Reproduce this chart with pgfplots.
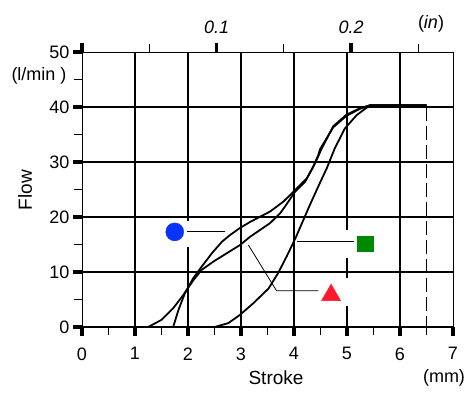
\documentclass[border=0pt]{standalone}
\usepackage{pgfplots}
\pgfplotsset{compat=1.18}
\usepackage{fontspec}
\setmainfont{Liberation Sans}
\definecolor{cblue}{RGB}{8,51,250}
\definecolor{cgreen}{RGB}{0,136,0}
\definecolor{cred}{RGB}{255,25,45}
\begin{document}
\begin{tikzpicture}[x=1pt,y=1pt]
\useasboundingbox (0,0) rectangle (469,392);
\begin{axis}[
  at={(82pt,65pt)}, anchor=south west, scale only axis,
  width=371pt, height=275pt,
  xmin=0, xmax=7, ymin=0, ymax=50,
  xtick={0,...,7}, minor xtick={0.5,1.5,...,6.5},
  ytick={0,10,...,50}, minor ytick={5,15,...,45},
  xtick pos=bottom, ytick pos=left,
  tick align=outside,
  major tick length=9pt, minor tick length=8pt,
  tick style={black},
  major tick style={line width=3.6pt, black},
  minor tick style={line width=1.1pt, black},
  axis line style={line width=0.9pt},
  /pgf/number format/assume math mode=true,
  ticklabel style={font=\fontsize{18}{20}\selectfont},
  xticklabel style={yshift=-8pt},
  major grid style={line width=2pt, black},
  extra x ticks={1,2,3,4,5,6}, extra x tick labels={},
  extra x tick style={grid=major, major tick length=0pt},
  extra y ticks={0,10,20,30,40}, extra y tick labels={},
  extra y tick style={grid=major, major tick length=0pt},
  clip=false,
]
% white label boxes
\fill[white] (axis cs:1.43,14.5) rectangle (axis cs:2.13,19.3);
\fill[white] (axis cs:4.83,12.5) rectangle (axis cs:5.66,17.6);
\fill[white] (axis cs:4.34,3.8) rectangle (axis cs:5.09,8.9);
% dashed stroke end
\draw[line width=1pt, dash pattern=on 14pt off 5pt] (axis cs:6.5,40) -- (axis cs:6.5,0);
% curves
\addplot[line width=1.8pt, black] coordinates {
(0,0)(1.25,0)(1.50,1.3)(1.72,3.4)(1.91,5.8)(2.10,8.5)(2.26,10.4)(2.48,11.9)(2.73,13.4)(2.98,14.9)(3.17,16.4)(3.55,18.9)(3.74,20.7)(3.83,21.9)(4.02,24.6)(4.21,26.4)(4.36,29.1)(4.46,31.3)(4.49,32.3)(4.74,36.3)(4.99,38.4)(5.25,39.7)(5.43,40.3)(6.5,40.3)};
\addplot[line width=1.8pt, black] coordinates {
(0,0)(1.72,0)(1.82,3.1)(1.94,6.1)(2.10,8.9)(2.26,11)(2.45,13.4)(2.64,15.5)(2.79,16.7)(2.98,18)(3.17,19.1)(3.55,21.0)(3.80,22.8)(4.02,24.9)(4.24,27.0)(4.40,29.8)(4.52,32.4)(4.74,36.5)(4.99,38.6)(5.25,39.8)(5.43,40.3)(6.5,40.3)};
\addplot[line width=1.8pt, black] coordinates {
(0,0)(2.50,0)(2.76,0.7)(2.98,2.2)(3.23,4.3)(3.52,7.0)(3.70,9.8)(3.86,12.8)(4.03,16.2)(4.30,22.2)(4.47,25.8)(4.62,28.9)(4.77,32.5)(4.96,36.1)(5.18,38.5)(5.43,40.3)(6.5,40.3)};
% leader lines
\addplot[line width=0.8pt, black] coordinates {(1.98,17.3)(2.70,17.3)};
\addplot[line width=0.8pt, black] coordinates {(4.05,15.5)(5.13,15.5)};
\addplot[line width=0.8pt, black] coordinates {(3.14,14.9)(3.67,6.6)(4.46,6.6)};
% markers
\addplot[only marks, mark=*, mark size=9pt, cblue, mark options={draw=cblue, fill=cblue}] coordinates {(1.75,17.3)};
\addplot[only marks, mark=square*, mark size=7.7pt, cgreen, mark options={draw=cgreen, fill=cgreen}] coordinates {(5.34,15.2)};
\addplot[only marks, mark=triangle*, mark size=11pt, cred, mark options={draw=cred, fill=cred}] coordinates {(4.7,5.8)};
\end{axis}
\begin{axis}[
  at={(82pt,65pt)}, anchor=south west, scale only axis,
  width=371pt, height=275pt,
  xmin=0, xmax=0.2755906, ymin=0, ymax=1,
  axis x line*=top, axis y line=none,
  axis line style={-, line width=0.9pt},
  xtick={0,0.1,0.2}, xticklabels={,0.1,0.2},
  minor xtick={0.05,0.15,0.25},
  tick align=outside,
  major tick length=9pt, minor tick length=8pt,
  major tick style={line width=3.6pt, black},
  minor tick style={line width=1.1pt, black},
  /pgf/number format/assume math mode=true,
  ticklabel style={font=\fontsize{18}{20}\selectfont\itshape},
  xticklabel style={yshift=6pt},
]
\end{axis}
\node[font=\fontsize{18}{20}\selectfont] at (431,368) {(\textit{in})};
\node[font=\fontsize{19}{22}\selectfont, rotate=90] at (25,202) {Flow};
\node[font=\fontsize{18}{20}\selectfont] at (39,316) {(l/min )};
\node[font=\fontsize{19}{22}\selectfont] at (276,14) {Stroke};
\node[font=\fontsize{18}{20}\selectfont] at (444,14) {(mm)};
\end{tikzpicture}
\end{document}
